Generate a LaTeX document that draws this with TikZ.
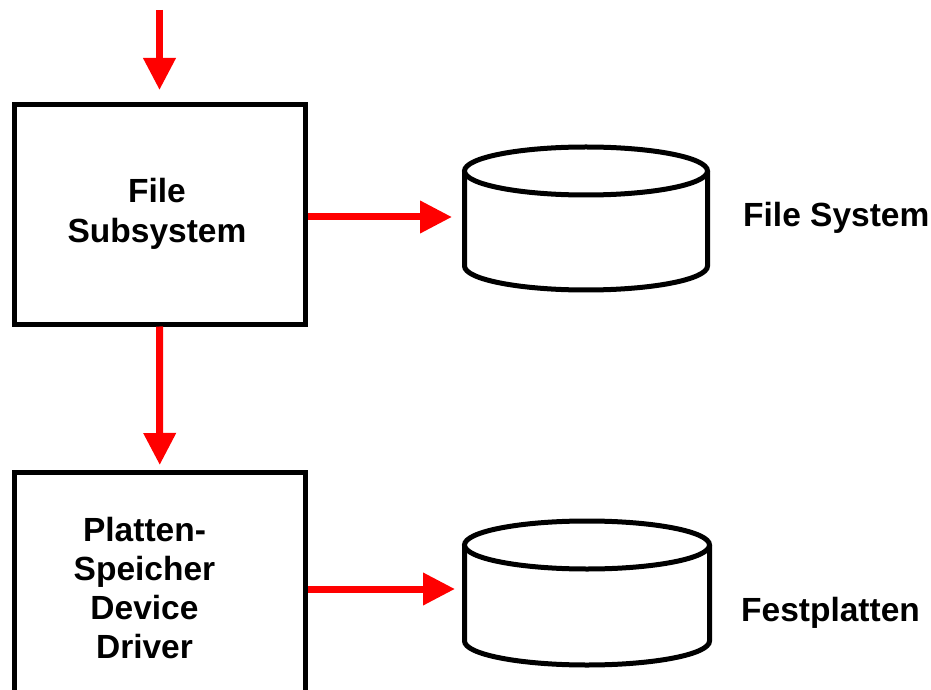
\documentclass[tikz,border=0pt]{standalone}
\usepackage{fontspec}
\setmainfont{Liberation Sans}
\usetikzlibrary{arrows.meta}
\tikzset{
  box/.style={draw=black, line width=5pt, fill=white, inner sep=0pt},
  cyl/.style={draw=black, line width=5pt, fill=white},
  arr/.style={draw=red, line width=7pt, -{Triangle[width=31pt,length=32pt]}},
  boxtext/.style={font=\fontsize{33.5}{40}\selectfont\bfseries, align=center, inner sep=0pt},
  lbl/.style={font=\fontsize{33.5}{40}\selectfont\bfseries, inner sep=0pt, anchor=north west}
}
\begin{document}
\begin{tikzpicture}[x=1pt,y=1pt]
\useasboundingbox (0,0) rectangle (931,689);
\clip (0,0) rectangle (931,689);
% boxes
\node[box, minimum width=291pt, minimum height=219pt] (fs) at (159.5,474.5) {};
\node[box, minimum width=290.5pt, minimum height=247pt] (dd) at (159.75,93.5) {};
\node[boxtext, anchor=north] (fst) at (157,511) {File\\Subsystem};
\node[boxtext, anchor=north, font=\fontsize{33.5}{39}\selectfont\bfseries] (ddt) at (144.5,172) {Platten-\\Speicher\\Device\\Driver};
% cylinders
\fill[white] (464.5,518) -- (464.5,423) arc[start angle=180,end angle=360,x radius=121.5,y radius=24] -- (707.5,518) -- cycle;
\draw[cyl] (464.5,518) -- (464.5,423) arc[start angle=180,end angle=360,x radius=121.5,y radius=24] -- (707.5,518);
\draw[cyl] (586,518) ellipse[x radius=121.5, y radius=24];
\fill[white] (464.5,144) -- (464.5,48) arc[start angle=180,end angle=360,x radius=122.5,y radius=24] -- (709.5,144) -- cycle;
\draw[cyl] (464.5,144) -- (464.5,48) arc[start angle=180,end angle=360,x radius=122.5,y radius=24] -- (709.5,144);
\draw[cyl] (587,144) ellipse[x radius=122.5, y radius=24];
% labels
\node[lbl] (l1) at (743,487) {File System};
\node[lbl] (l2) at (741,92) {Festplatten};
% connector endpoints
\coordinate (top) at (159.5,679);
\coordinate (c1) at (452,472);
\coordinate (c2) at (455,100);
% arrows
\draw[arr, shorten >=12.5pt] (top) -- (fs.north);
\draw[arr, shorten >=4.5pt] (fs.south) -- (dd.north);
\draw[arr] (fs.east |- c1) -- (c1);
\draw[arr] (dd.east |- c2) -- (c2);
\end{tikzpicture}
\end{document}
